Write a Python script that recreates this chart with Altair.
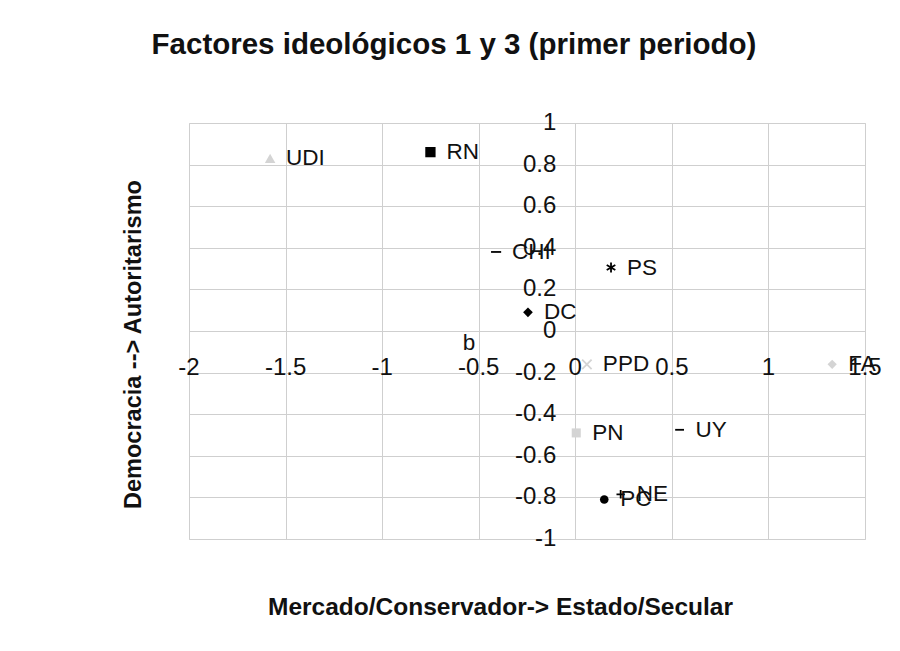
import altair as alt
import pandas as pd

# ---- data ----
parties = ["UDI", "RN", "CHI", "PS", "DC", "PPD", "FA", "PN", "UY", "PC", "NE"]
factor1 = [-1.58, -0.75, -0.41, 0.185, -0.245, 0.06, 1.33, 0.005, 0.54, 0.15, 0.235]
factor3 = [0.83, 0.86, 0.38, 0.305, 0.09, -0.16, -0.16, -0.49, -0.475, -0.81, -0.785]

note_text = ["b"]
note_x = [-0.55]
note_y = [-0.06]

x_ticks = [-2, -1.5, -1, -0.5, 0, 0.5, 1, 1.5]
x_tick_labels = ["-2", "-1.5", "-1", "-0.5", "0", "0.5", "1", "1.5"]
y_ticks = [-1, -0.8, -0.6, -0.4, -0.2, 0, 0.2, 0.4, 0.6, 0.8, 1]
y_tick_labels = ["-1", "-0.8", "-0.6", "-0.4", "-0.2", "0", "0.2", "0.4", "0.6", "0.8", "1"]

title_text = "Factores ideológicos 1 y 3 (primer periodo)"
x_title = "Mercado/Conservador-> Estado/Secular"
y_title = "Democracia --> Autoritarismo"

# ---- marker styles (per party) ----
ASTERISK = "M0,-1L0,1M-0.87,-0.5L0.87,0.5M-0.87,0.5L0.87,-0.5"
XMARK = "M-1,-1L1,1M-1,1L1,-1"
PLUS = "M-1,0L1,0M0,-1L0,1"
LIGHT = "#d4d4d4"
style = {
    "UDI": ("triangle-up", LIGHT, 110, True),
    "RN": ("square", "#000000", 70, True),
    "CHI": ("stroke", "#000000", 64, False),
    "PS": (ASTERISK, "#000000", 90, False),
    "DC": ("diamond", "#000000", 90, True),
    "PPD": (XMARK, LIGHT, 60, False),
    "FA": ("diamond", LIGHT, 90, True),
    "PN": ("square", LIGHT, 80, True),
    "UY": ("stroke", "#000000", 150, False),
    "PC": ("circle", "#000000", 70, True),
    "NE": (PLUS, "#000000", 70, False),
}
shape_range = [style[p][0] for p in parties]
color_range = [style[p][1] for p in parties]
size_range = [style[p][2] for p in parties]
filled_parties = [p for p in parties if style[p][3]]
stroked_parties = [p for p in parties if not style[p][3]]

df = pd.DataFrame({"party": parties, "f1": factor1, "f3": factor3})
notes = pd.DataFrame({"t": note_text, "x": note_x, "y": note_y})
xt = pd.DataFrame({"v": x_ticks, "lab": x_tick_labels})
yt = pd.DataFrame({"v": y_ticks, "lab": y_tick_labels})

FONT = "Liberation Sans"
xscale = alt.Scale(domain=[-2, 1.5], nice=False, zero=False)
yscale = alt.Scale(domain=[-1, 1], nice=False, zero=False)

X = alt.X("f1:Q", scale=xscale, axis=alt.Axis(
    values=x_ticks, labels=False, ticks=False, domain=False, grid=True,
    gridColor="#cfcfcf", title=x_title, titleFont=FONT, titleFontSize=24.5,
    titleFontWeight="bold", titleColor="#111111", titlePadding=56, titleX=311))
Y = alt.Y("f3:Q", scale=yscale, axis=alt.Axis(
    values=y_ticks, labels=False, ticks=False, domain=False, grid=True,
    gridColor="#cfcfcf", title=y_title, titleFont=FONT, titleFontSize=23.5,
    titleFontWeight="bold", titleColor="#111111", titlePadding=44, titleY=221))

shape_enc = alt.Shape("party:N", scale=alt.Scale(domain=parties, range=shape_range), legend=None)
color_enc = alt.Color("party:N", scale=alt.Scale(domain=parties, range=color_range), legend=None)
size_enc = alt.Size("party:N", scale=alt.Scale(domain=parties, range=size_range), legend=None)

base = alt.Chart(df)

filled = base.transform_filter(
    alt.FieldOneOfPredicate(field="party", oneOf=filled_parties)
).mark_point(filled=True, opacity=1).encode(
    x=X, y=Y, shape=shape_enc, color=color_enc, size=size_enc)

stroked = base.transform_filter(
    alt.FieldOneOfPredicate(field="party", oneOf=stroked_parties)
).mark_point(filled=False, opacity=1, strokeWidth=1.8).encode(
    x=X, y=Y, shape=shape_enc, color=color_enc, size=size_enc)

labels = base.mark_text(align="left", baseline="middle", dx=16, font=FONT,
                        fontSize=22.5, color="#111111").encode(
    x=alt.X("f1:Q", scale=xscale), y=alt.Y("f3:Q", scale=yscale), text="party:N")

note = alt.Chart(notes).mark_text(align="center", baseline="middle", font=FONT,
                                  fontSize=22.5, color="#111111").encode(
    x=alt.X("x:Q", scale=xscale), y=alt.Y("y:Q", scale=yscale), text="t:N")

xlab = alt.Chart(xt).mark_text(align="center", baseline="middle", dy=37, font=FONT,
                               fontSize=24, color="#111111").encode(
    x=alt.X("v:Q", scale=xscale), y=alt.datum(0), text="lab:N")

ylab = alt.Chart(yt).mark_text(align="right", baseline="middle", dx=-19, font=FONT,
                               fontSize=24, color="#111111").encode(
    x=alt.datum(0), y=alt.Y("v:Q", scale=yscale), text="lab:N")

chart = alt.layer(filled, stroked, xlab, ylab, labels, note).properties(
    width=676, height=416,
    title=alt.TitleParams(title_text, font=FONT, fontSize=29.5, fontWeight="bold",
                          color="#111111", anchor="middle", dx=-73, offset=51),
    autosize=alt.AutoSizeParams(type="none"),
    padding={"left": 181, "top": 115, "right": 27, "bottom": 96},
).configure_view(stroke="#cfcfcf", strokeWidth=1).configure(background="white")

chart.save("out.html", embed_options={"renderer": "svg", "actions": False})
